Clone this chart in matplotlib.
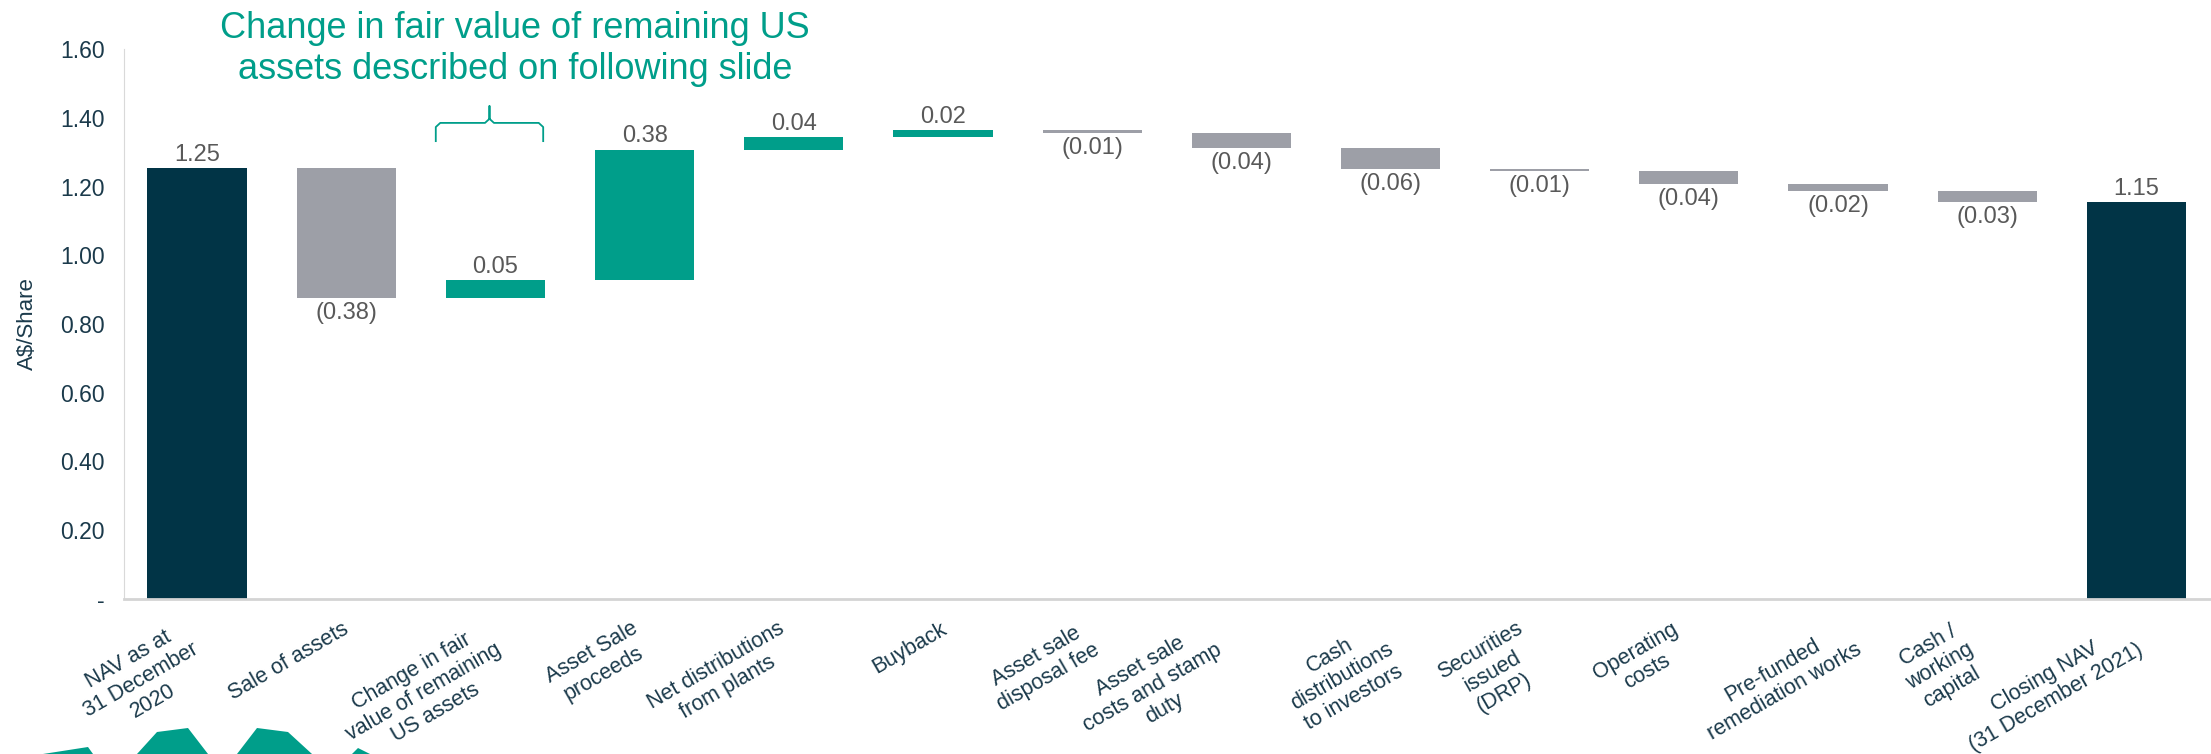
import numpy as np
import matplotlib
matplotlib.use('Agg')
import matplotlib.pyplot as plt
from matplotlib.patches import Polygon

plt.rcParams['font.family'] = ['Liberation Sans', 'DejaVu Sans']

categories = ['NAV as at\n31 December\n2020', 'Sale of assets',
              'Change in fair\nvalue of remaining\nUS assets', 'Asset Sale\nproceeds',
              'Net distributions\nfrom plants', 'Buyback', 'Asset sale\ndisposal fee',
              'Asset sale\ncosts and stamp\nduty', 'Cash\ndistributions\nto investors',
              'Securities\nissued\n(DRP)', 'Operating\ncosts', 'Pre-funded\nremediation works',
              'Cash /\nworking\ncapital', 'Closing NAV\n(31 December 2021)']
# opening NAV followed by the movements (A$/share)
movements = [1.253, -0.376, 0.050, 0.380, 0.036, 0.020, -0.008, -0.042,
             -0.061, -0.006, -0.039, -0.020, -0.033]
yticks = [0, 0.2, 0.4, 0.6, 0.8, 1.0, 1.2, 1.4, 1.6]
note = 'Change in fair value of remaining US\nassets described on following slide'

NAVY = '#013446'
GREY = '#9d9fa7'
TEAL = '#009e8a'
TXT = '#1b3a4b'
LBL = '#595959'

cum = np.cumsum(movements)
closing = cum[-1]
bottoms, heights, cols = [], [], []
for i, v in enumerate(movements):
    if i == 0:
        bottoms.append(0); heights.append(v); cols.append(NAVY)
    else:
        prev = cum[i - 1]
        bottoms.append(min(prev, cum[i])); heights.append(abs(v))
        cols.append(TEAL if v > 0 else GREY)
bottoms.append(0); heights.append(closing); cols.append(NAVY)

fig = plt.figure(figsize=(22.11, 7.54), dpi=100)
ax = fig.add_axes([124 / 2211, 1 - 599 / 754, 1 - 124 / 2211, (599 - 49) / 754])
x = np.arange(len(categories))
ax.bar(x, heights, bottom=bottoms, width=0.665, color=cols, zorder=2)

# value labels
for i in range(len(categories)):
    top = bottoms[i] + heights[i]
    if i == 0 or i == len(categories) - 1:
        ax.annotate(f'{heights[i]:.2f}', (i, top), xytext=(0, 2), textcoords='offset points',
                    ha='center', va='bottom', fontsize=17, color=LBL)
    elif movements[i] > 0:
        ax.annotate(f'{movements[i]:.2f}', (i, top), xytext=(0, 2), textcoords='offset points',
                    ha='center', va='bottom', fontsize=17, color=LBL)
    else:
        ax.annotate(f'({abs(movements[i]):.2f})', (i, bottoms[i]), xytext=(0, -3),
                    textcoords='offset points', ha='center', va='top', fontsize=17, color=LBL)

ax.set_xlim(-0.49, len(categories) - 0.5)
ax.set_ylim(0, 1.6)
ax.set_yticks(yticks)
ax.set_yticklabels(['-' if t == 0 else f'{t:.2f}' for t in yticks], fontsize=16.5, color=TXT)
ax.set_xticks([])
ax.tick_params(axis='y', length=0, pad=14)
ax.set_ylabel('A$/Share', fontsize=16, color=TXT, labelpad=16)
for s in ['top', 'right']:
    ax.spines[s].set_visible(False)
ax.spines['left'].set_color('#d9d9d9')
ax.spines['bottom'].set_color('#d4d4d4')
ax.spines['bottom'].set_linewidth(2)

# category labels, rotated like the slide
offsets = [-0.12, -0.03, -0.09, -0.09, -0.11, -0.02, -0.08, -0.26, -0.11, -0.16,
           -0.12, 0.03, -0.22, -0.08]
trans = ax.get_xaxis_transform()
for i, (lab, dx) in enumerate(zip(categories, offsets)):
    ax.text(i + dx, -0.035, lab, transform=trans, rotation=30, rotation_mode='anchor',
            ha='right', va='top', multialignment='center', fontsize=15.5, color=TXT,
            clip_on=False)

# brace over the fair value bar + note
bx = 2 - 0.04
hw = 0.36
yb, ym, ys = 1.332, 1.385, 1.434
bxs = [bx - hw, bx - hw, bx - hw + 0.03, bx - 0.03, bx, bx, bx, bx + 0.03, bx + hw - 0.03, bx + hw, bx + hw]
bys = [yb, ym - 0.012, ym, ym, ym + 0.012, ys, ym + 0.012, ym, ym, ym - 0.012, yb]
ax.plot(bxs, bys, color=TEAL, lw=1.3, clip_on=False, zorder=3)
ax.text(2.13, 1.6, note, ha='center', va='center', fontsize=26, color=TEAL,
        linespacing=1.22, clip_on=False)

# bits of the logo peeking in at the bottom left
shapes = [[(43, 754), (88, 747), (93, 754)],
          [(137, 754), (157, 732), (188, 728), (208, 754)],
          [(237, 754), (257, 728), (288, 732), (312, 754)],
          [(352, 754), (358, 748), (370, 754)]]
for pts in shapes:
    fig.add_artist(Polygon([(px / 2211, 1 - py / 754) for px, py in pts], closed=True,
                           transform=fig.transFigure, color=TEAL, lw=0))

fig.savefig('out.png', dpi=100)
